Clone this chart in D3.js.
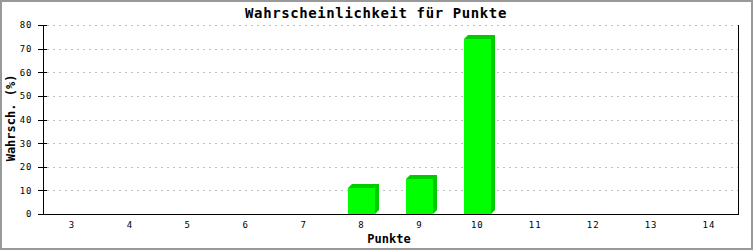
<!DOCTYPE html>
<html>
<head>
<meta charset="utf-8">
<script src="https://cdn.jsdelivr.net/npm/d3@7"></script>
<style>
  body { margin: 0; background: #fff; }
  svg { display: block; }
  text { font-family: "DejaVu Sans Mono", monospace; fill: #000; }
</style>
</head>
<body>
<div id="chart"></div>
<script>
"use strict";

// data
const points = ["3", "4", "5", "6", "7", "8", "9", "10", "11", "12", "13", "14"];
const probs = [0, 0, 0, 0, 0, 11.11, 14.81, 74.07, 0, 0, 0, 0];
const yTicks = [0, 10, 20, 30, 40, 50, 60, 70, 80];

const W = 753, H = 250;
const margin = { top: 25, right: 15, bottom: 36, left: 43 };

const svg = d3.select("#chart")
    .append("svg")
    .attr("width", W)
    .attr("height", H);

// frame
svg.append("rect")
    .attr("x", 1).attr("y", 1)
    .attr("width", W - 2).attr("height", H - 2)
    .attr("fill", "#fff")
    .attr("stroke", "#999")
    .attr("stroke-width", 2);

const x = d3.scaleBand()
    .domain(points)
    .range([margin.left, W - margin.right]);

const y = d3.scaleLinear()
    .domain([0, 80])
    .range([H - margin.bottom, margin.top]);

// grid lines
svg.append("g")
    .selectAll("line")
    .data(yTicks.filter(d => d > 0))
    .join("line")
    .attr("x1", margin.left + 4)
    .attr("x2", W - margin.right)
    .attr("y1", d => Math.round(y(d)) + 0.5)
    .attr("y2", d => Math.round(y(d)) + 0.5)
    .attr("stroke", "#c0c0c0")
    .attr("stroke-dasharray", "2,4");

// bars (front face + darker side/top for the 3d look)
const depth = 4, barW = 27;
const bars = svg.append("g")
    .selectAll("g")
    .data(points.map((p, i) => ({ p: p, v: probs[i] })).filter(d => d.v > 0))
    .join("g");

bars.append("polygon")
    .attr("fill", "#00cc00")
    .attr("points", d => {
        const x0 = Math.round(x(d.p) + x.bandwidth() / 2 - barW / 2);
        const x1 = x0 + barW;
        const yt = Math.round(y(d.v)), yb = y(0);
        return [[x0, yt], [x0 + depth, yt - depth], [x1 + depth, yt - depth],
                [x1 + depth, yb - depth], [x1, yb]].map(q => q.join(",")).join(" ");
    });

bars.append("rect")
    .attr("fill", "#00ff00")
    .attr("x", d => Math.round(x(d.p) + x.bandwidth() / 2 - barW / 2))
    .attr("y", d => Math.round(y(d.v)))
    .attr("width", barW)
    .attr("height", d => y(0) - Math.round(y(d.v)));

// axes
const yAxis = svg.append("g")
    .attr("transform", `translate(${margin.left + 0.5},0)`)
    .call(d3.axisLeft(y).tickValues(yTicks).tickSize(0).tickPadding(11));
yAxis.select(".domain").remove();
yAxis.selectAll("text")
    .attr("font-size", 9)
    .attr("letter-spacing", 1)
    .attr("font-family", "DejaVu Sans Mono, monospace");

svg.append("g")
    .selectAll("line")
    .data(yTicks)
    .join("line")
    .attr("x1", margin.left - 5)
    .attr("x2", margin.left + 4)
    .attr("y1", d => Math.round(y(d)) + 0.5)
    .attr("y2", d => Math.round(y(d)) + 0.5)
    .attr("stroke", "#000");

svg.append("line")
    .attr("x1", margin.left + 0.5).attr("x2", margin.left + 0.5)
    .attr("y1", margin.top).attr("y2", y(0) + 1)
    .attr("stroke", "#000");
svg.append("line")
    .attr("x1", W - margin.right + 0.5).attr("x2", W - margin.right + 0.5)
    .attr("y1", margin.top).attr("y2", y(0) + 1)
    .attr("stroke", "#000");
svg.append("line")
    .attr("x1", margin.left).attr("x2", W - margin.right + 1)
    .attr("y1", y(0) + 0.5).attr("y2", y(0) + 0.5)
    .attr("stroke", "#000");

const xAxis = svg.append("g")
    .attr("transform", `translate(0,${y(0)})`)
    .call(d3.axisBottom(x).tickSize(0).tickPadding(8));
xAxis.select(".domain").remove();
xAxis.selectAll("text")
    .attr("font-size", 9)
    .attr("letter-spacing", 1)
    .attr("font-family", "DejaVu Sans Mono, monospace");

// titles
svg.append("text")
    .attr("x", 376)
    .attr("y", 18)
    .attr("text-anchor", "middle")
    .attr("font-size", 14)
    .attr("font-weight", "bold")
    .attr("letter-spacing", 0.6)
    .text("Wahrscheinlichkeit für Punkte");

svg.append("text")
    .attr("x", 389)
    .attr("y", 243)
    .attr("text-anchor", "middle")
    .attr("font-size", 12)
    .attr("font-weight", "bold")
    .text("Punkte");

svg.append("text")
    .attr("transform", "translate(15,118) rotate(-90)")
    .attr("text-anchor", "middle")
    .attr("font-size", 12)
    .attr("font-weight", "bold")
    .text("Wahrsch. (%)");
</script>
</body>
</html>
